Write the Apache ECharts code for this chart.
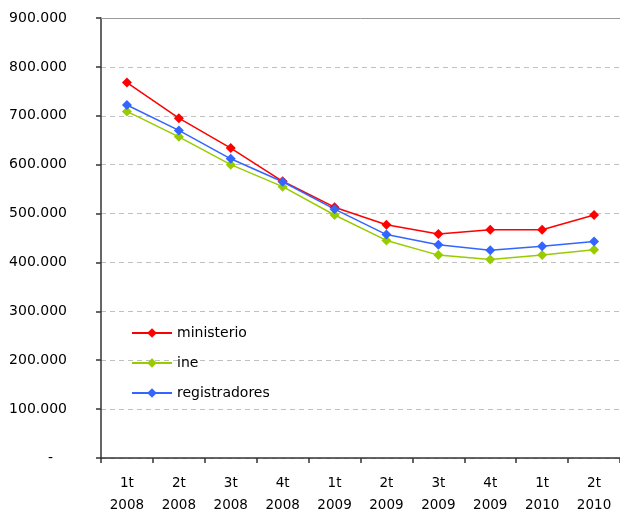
<!DOCTYPE html>
<html><head><meta charset="utf-8">
<script src="https://cdn.jsdelivr.net/npm/echarts@6/dist/echarts.min.js"></script>
<style>html,body{margin:0;padding:0;background:#fff}#c{width:620px;height:516px}</style>
</head><body><div id="c"></div>
<script>
const categories = ['1t\n2008','2t\n2008','3t\n2008','4t\n2008','1t\n2009','2t\n2009','3t\n2009','4t\n2009','1t\n2010','2t\n2010'];
const ministerio = [768000, 695000, 634000, 566000, 513000, 477000, 458000, 467000, 467000, 497000];
const ine = [709000, 657000, 600000, 555000, 497000, 445000, 415000, 406000, 415000, 426000];
const registradores = [722000, 670000, 612000, 565000, 509000, 457000, 436000, 425000, 433000, 443000];
const seriesNames = ['ministerio','ine','registradores'];
const colors = ['#ff0000','#99cc00','#3366ff'];

const font = 'DejaVu Sans';
function fmt(v){
  if (v === 0) return '{d|-}';
  return String(v).replace(/\B(?=(\d{3})+(?!\d))/g, '.');
}
const chart = echarts.init(document.getElementById('c'));
const data = [ministerio, ine, registradores];
chart.setOption({
  animation:false,
  backgroundColor:'#fff',
  grid:{left:101, top:18, width:524, bottom:54},
  legend:{
    orient:'vertical', left:131, top:326, padding:0, itemWidth:40, itemHeight:12, itemGap:16,
    textStyle:{fontFamily:font, fontSize:14, color:'#000'},
    data:seriesNames
  },
  xAxis:[{
    type:'category', data:categories, boundaryGap:true,
    axisLine:{lineStyle:{color:'#333', width:1.5}},
    axisTick:{show:true, alignWithLabel:false, length:5, lineStyle:{color:'#333', width:1.5}},
    axisLabel:{fontFamily:font, fontSize:13.5, color:'#000', margin:14, lineHeight:22, interval:0}
  },{
    type:'category', data:categories, position:'top',
    axisLine:{lineStyle:{color:'#999', width:1}}, axisTick:{show:false}, axisLabel:{show:false}
  }],
  yAxis:{
    type:'value', min:0, max:900000, interval:100000,
    axisLine:{show:true, lineStyle:{color:'#333', width:1.5}},
    axisTick:{show:true, inside:false, length:5, lineStyle:{color:'#333', width:1.5}},
    splitLine:{lineStyle:{color:'#c0c0c0', type:[5,4], width:1}},
    axisLabel:{fontFamily:font, fontSize:14, color:'#000', margin:34, formatter:fmt,
      rich:{d:{fontFamily:font, fontSize:14, color:'#000', padding:[0,14,0,0]}}}
  },
  series: seriesNames.map((n,i)=>({
    name:n, type:'line', data:data[i], symbol:'diamond', symbolSize:10,
    lineStyle:{color:colors[i], width:1.5}, itemStyle:{color:colors[i]}
  }))
});
</script></body></html>
